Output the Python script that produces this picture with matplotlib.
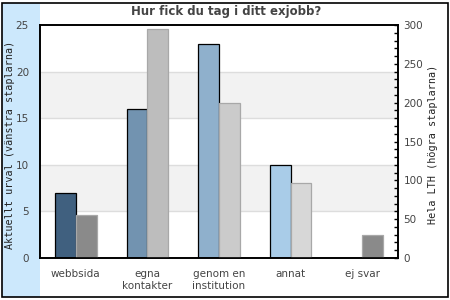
import matplotlib.pyplot as plt
from matplotlib.patches import Rectangle
import numpy as np

categories = ['webbsida', 'egna\nkontakter', 'genom en\ninstitution', 'annat', 'ej svar']
urval = [7, 16, 23, 10, 0]
hela_lth = [56, 295, 200, 96, 30]
left_ticks = [0, 5, 10, 15, 20, 25]
right_ticks = [0, 50, 100, 150, 200, 250, 300]

left_colors = ['#40607f', '#7293b0', '#8fb0cc', '#a9cce8', '#c8e0f4']
right_colors = ['#8a8a8a', '#bdbdbd', '#cbcbcb', '#d7d7d7', '#8a8a8a']
text_color = '#444444'

fig = plt.figure(figsize=(4.5, 3), dpi=100)
W, H = 450, 300

# light blue band on the left and frame around the figure
fig.patches.append(Rectangle((2 / W, 3 / H), 38 / W, 294 / H, transform=fig.transFigure,
                             facecolor='#cce8fc', edgecolor='none', zorder=0))
fig.patches.append(Rectangle((2 / W, 3 / H), 446 / W, 294 / H, transform=fig.transFigure,
                             facecolor='none', edgecolor='black', lw=1.2, zorder=5))

ax = fig.add_axes([40 / W, 42 / H, 358 / W, 233 / H])
ax.set_facecolor('white')
ax.set_zorder(1)
ax2 = ax.twinx()
ax2.set_zorder(2)

# alternating bands and grid lines
for lo in (5, 15):
    ax.axhspan(lo, lo + 5, color='#f2f2f2', lw=0, zorder=0)
for y in (5, 10, 15, 20):
    ax.axhline(y, color='#dddddd', lw=1, zorder=0.5)

x = np.arange(len(categories))
w = 0.29
for i in range(len(categories)):
    if urval[i] > 0:
        ax.bar(x[i] - w / 2, urval[i], w, color=left_colors[i], edgecolor='black', lw=0.9, zorder=2)
    ax2.bar(x[i] + w / 2, hela_lth[i], w, color=right_colors[i], edgecolor='#a8a8a8', lw=0.9, zorder=2)

ax.set_xlim(-0.5, len(categories) - 0.5)
ax.set_ylim(0, 25)
ax2.set_ylim(0, 300)

ax.set_yticks(left_ticks)
ax.tick_params(axis='y', length=0, pad=8, labelsize=7.5, labelcolor=text_color)
ax.set_xticks(x)
ax.set_xticklabels(categories, va='top', linespacing=1.2)
ax.tick_params(axis='x', length=0, pad=8, labelsize=7.5, labelcolor=text_color)

ax2.set_yticks(right_ticks)
ax2.set_yticks(np.arange(0, 301, 10), minor=True)
ax2.tick_params(axis='y', which='both', direction='in', length=3, width=1, pad=4,
                labelsize=7.5, labelcolor=text_color)
ax2.tick_params(axis='y', which='minor', labelright=False)

for a in (ax, ax2):
    for s in a.spines.values():
        s.set_color('black')
        s.set_linewidth(1.2)

fig.text(10 / W, 1 - 145 / H, 'Aktuellt urval (vänstra staplarna)', family='DejaVu Sans Mono',
         fontsize=7.3, color='#222222', rotation=90, ha='center', va='center')
fig.text(433 / W, 1 - 144 / H, 'Hela LTH (högra staplarna)', family='DejaVu Sans Mono',
         fontsize=7.3, color='#222222', rotation=90, ha='center', va='center')

fig.text(226 / W, 1 - 12 / H, 'Hur fick du tag i ditt exjobb?', ha='center', va='center',
         fontsize=8.5, fontweight='bold', color=text_color)

fig.savefig('out.png', dpi=100)
